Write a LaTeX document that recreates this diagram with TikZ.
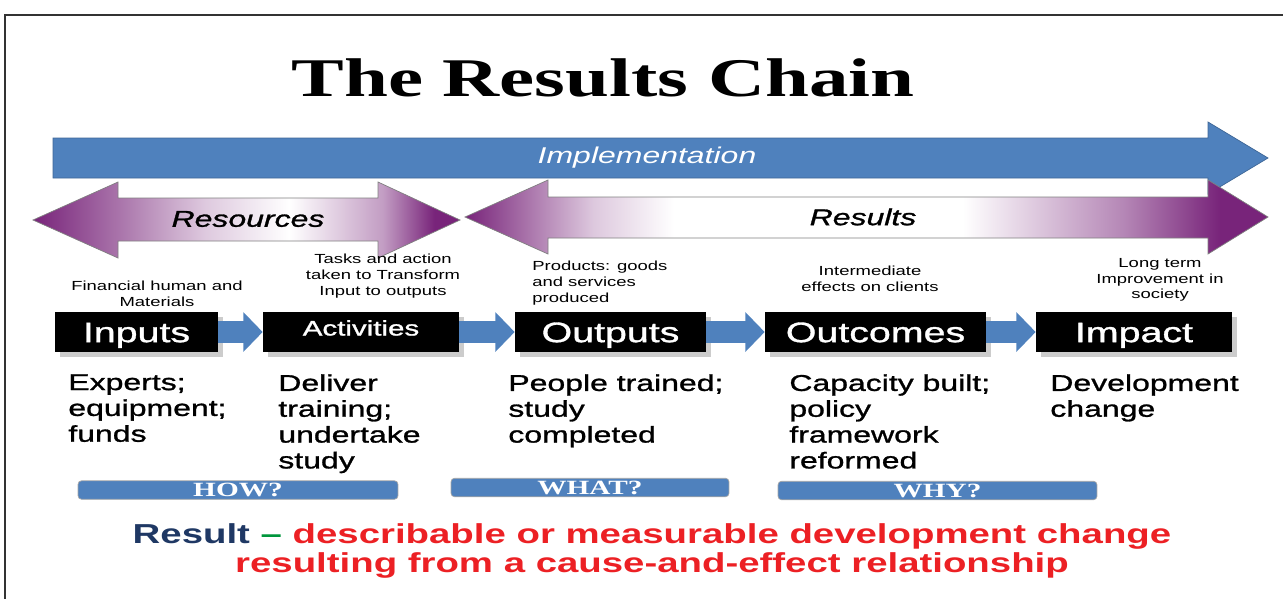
\documentclass[tikz,border=0pt]{standalone}
\usepackage{fontspec}
\setmainfont[FakeStretch=1.4]{Liberation Sans}
\newfontfamily\heavysans[FakeStretch=1.4,FakeBold=1.2]{Liberation Sans}
\newfontfamily\titleserif[FakeStretch=1.45]{Liberation Serif}
\usetikzlibrary{arrows.meta,shadows}
\definecolor{implblue}{RGB}{79,129,189}
\definecolor{respurple}{RGB}{120,36,122}
\definecolor{defnavy}{RGB}{31,56,100}
\definecolor{defgreen}{RGB}{0,150,60}
\definecolor{defred}{RGB}{236,32,36}
\pgfdeclarehorizontalshading{resourceshade}{100bp}{color(0bp)=(respurple); color(25bp)=(respurple); color(36bp)=(respurple!60); color(45bp)=(respurple!25); color(55bp)=(white); color(66bp)=(respurple!45); color(72bp)=(respurple); color(100bp)=(respurple)}
\pgfdeclarehorizontalshading{resultshade}{100bp}{color(0bp)=(respurple); color(25bp)=(respurple); color(33bp)=(respurple!25); color(38bp)=(white); color(56bp)=(white); color(66bp)=(respurple!55); color(72bp)=(respurple); color(100bp)=(respurple)}
\tikzset{
  chainbox/.style={fill=black, text=white, minimum height=0.8cm, inner sep=0pt,
    font=\heavysans\fontsize{16}{18}\selectfont, text height=11.5pt, text depth=0pt,
    drop shadow={shadow xshift=3pt, shadow yshift=-3pt, fill=black!20, opacity=1}},
  stepnote/.style={font=\fontsize{7.5}{9}\selectfont, align=center, inner sep=0pt},
  example/.style={font=\heavysans\fontsize{13}{14.7}\selectfont, align=left, anchor=north west, inner sep=0pt},
  question/.style={fill=implblue, draw=black!35, rounded corners=2pt, minimum height=0.37cm,
    inner sep=0pt, text=white, font=\titleserif\bfseries\fontsize{11.5}{11.5}\selectfont},
  flow/.style={implblue, line width=12pt, -{Triangle[width=22pt,length=11pt]}},
}
\begin{document}
\begin{tikzpicture}[x=0.02cm,y=-0.02cm]
\useasboundingbox (0,0) rectangle (1283,599);
\draw[line width=1.5pt, black!80] (1283,15) -- (5,15) -- (5,599);
\node (title) at (603,78) {\titleserif\bfseries\fontsize{31}{31}\selectfont The Results Chain};
% implementation
\draw[fill=implblue, draw=implblue!80!black] (53,138) -- (1208,138) -- (1208,122) -- (1268,158)
  -- (1208,194) -- (1208,178) -- (53,178) -- cycle;
\node[text=white, font=\itshape\fontsize{13}{13}\selectfont] (impl) at (647,158) {Implementation};
% resources and results
\draw[shading=resourceshade, draw=black!50] (33,220) -- (118,182) -- (118,198) -- (378,198) -- (378,182)
  -- (460,220) -- (378,258) -- (378,241) -- (118,241) -- (118,258) -- cycle;
\draw[shading=resultshade, draw=black!50] (465,217) -- (548,180) -- (548,197) -- (1208,197) -- (1208,180)
  -- (1268,217) -- (1208,254) -- (1208,238) -- (548,238) -- (548,254) -- cycle;
\node[font=\heavysans\itshape\fontsize{13}{13}\selectfont] (resources) at (248,219) {Resources};
\node[font=\heavysans\itshape\fontsize{13}{13}\selectfont] (results) at (863,217) {Results};
% chain
\node[chainbox, minimum width=3.26cm] (inputs) at (136.5,332) {Inputs};
\node[chainbox, minimum width=3.92cm, font=\heavysans\fontsize{12}{12}\selectfont, text height=8pt, text depth=4pt] (activities) at (361,332) {Activities};
\node[chainbox, minimum width=3.82cm] (outputs) at (610.5,332) {Outputs};
\node[chainbox, minimum width=4.42cm] (outcomes) at (875.5,332) {Outcomes};
\node[chainbox, minimum width=3.92cm] (impact) at (1134,332) {Impact};
\draw[flow] (inputs) -- (activities);
\draw[flow] (activities) -- (outputs);
\draw[flow] (outputs) -- (outcomes);
\draw[flow] (outcomes) -- (impact);
\node[stepnote] (inputsnote) at (157,294) {Financial human and\\Materials};
\node[stepnote] (activitiesnote) at (383,276) {Tasks and action\\taken to Transform\\Input to outputs};
\node[stepnote, align=left, anchor=west] (outputsnote) at (532,283) {Products: goods\\and services\\produced};
\node[stepnote] (outcomesnote) at (870,279) {Intermediate\\effects on clients};
\node[stepnote] (impactnote) at (1160,280) {Long term\\Improvement in\\society};
% examples
\node[example] (inputsex) at (68,374) {Experts;\\equipment;\\funds};
\node[example] (activitiesex) at (278,374) {Deliver\\training;\\undertake\\study};
\node[example] (outputsex) at (508,374) {People trained;\\study\\completed};
\node[example] (outcomesex) at (789,374) {Capacity built;\\policy\\framework\\reformed};
\node[example] (impactex) at (1050,374) {Development\\change};
% questions
\node[question, minimum width=6.4cm] (how) at (238,490) {HOW?};
\node[question, minimum width=5.56cm] (what) at (590,487.5) {WHAT?};
\node[question, minimum width=6.38cm] (why) at (937.5,490.5) {WHY?};
\node[align=center, text=defred, font=\bfseries\fontsize{15.6}{16.4}\selectfont] (definition) at (652,551)
  {\textcolor{defnavy}{Result} \textcolor{defgreen}{--} describable or measurable development change\\
   resulting from a cause-and-effect relationship};
\end{tikzpicture}
\end{document}
